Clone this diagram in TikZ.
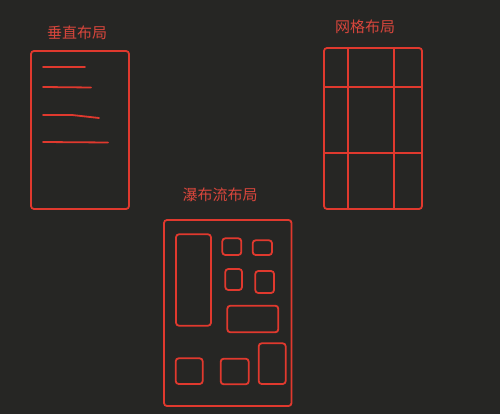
\documentclass[tikz,border=0pt]{standalone}
\usepackage{fontspec}
\newfontfamily\cjk{Noto Sans CJK SC}
\definecolor{bg}{HTML}{262624}
\definecolor{ln}{HTML}{E0392E}
\definecolor{tx}{HTML}{D8463C}
\begin{document}
\begin{tikzpicture}[x=1pt,y=-1pt,
  box/.style={draw=ln,line width=1.8pt,rounded corners=3pt},
  stroke/.style={draw=ln,line width=1.8pt,line cap=round},
  title/.style={text=tx,font=\cjk\fontsize{15}{15}\selectfont,inner sep=0pt}]
\fill[bg] (0,0) rectangle (500,414);
\useasboundingbox (0,0) rectangle (500,414);
% vertical layout
\node[title] (t1) at (77,33) {垂直布局};
\draw[box] (31,51) rectangle (129,209);
\draw[stroke] (43,67) -- (85,67);
\draw[stroke] (43,87) -- (91,87.5);
\draw[stroke] (43,115) -- (72,115) -- (99,118);
\draw[stroke] (43,142) -- (108,142.5);
% grid layout
\node[title] (t2) at (365,27) {网格布局};
\draw[box] (324,48) rectangle (422,209);
\draw[stroke] (348.3,48) -- (348.3,209);
\draw[stroke] (394.3,48) -- (394.3,209);
\draw[stroke] (324,86.7) -- (422,86.7);
\draw[stroke] (324,153.3) -- (422,153.3);
% waterfall layout
\node[title] (t3) at (220,195) {瀑布流布局};
\draw[box] (164,220) rectangle (291.5,406);
\draw[box] (176,234.3) rectangle (211,325.7);
\draw[box] (222.3,238.3) rectangle (241.3,255);
\draw[box] (252.7,240.3) rectangle (272,255);
\draw[box] (225.3,269) rectangle (242,290);
\draw[box] (255.3,271) rectangle (274,293);
\draw[box] (227.3,305.7) rectangle (278.3,332.3);
\draw[box] (175.7,358.3) rectangle (202.7,384);
\draw[box] (220.7,358.7) rectangle (248.7,384.3);
\draw[box] (258.7,343.3) rectangle (285.7,384);
\end{tikzpicture}
\end{document}
